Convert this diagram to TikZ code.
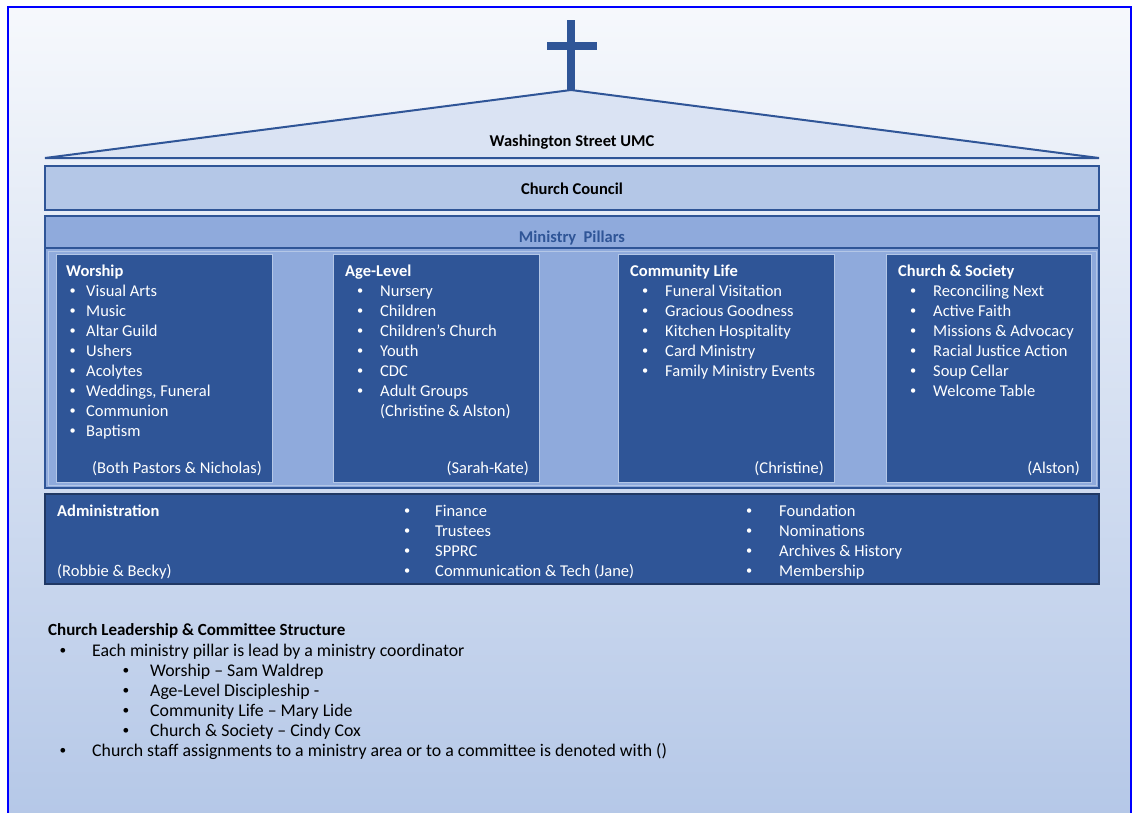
\documentclass[tikz,border=0pt]{standalone}
\usepackage{fontspec}
\usepackage{graphicx}
\setmainfont{Carlito}
\usetikzlibrary{positioning}

\newcommand{\blt}[1][10.5pt]{\llap{\raisebox{1.3pt}{\scalebox{.75}{\textbullet}}\hspace{#1}}}

\begin{document}
\begin{tikzpicture}
	[x=1pt,y=-1pt,line join=miter,
	%Styles
	band/.style={draw=dark,line width=1.5pt,minimum width=1054pt,inner sep=0pt},
	pillar/.style={fill=dark,draw=lightblue,line width=.8pt,minimum width=#1,minimum height=228pt,inner sep=0pt,anchor=north west},
	head/.style={font=\fontsize{16.5}{18}\selectfont\bfseries,text=white,anchor=base west,inner sep=0pt},
	item/.style={font=\fontsize{16.5}{18}\selectfont,text=white,anchor=base west,inner sep=0pt},
	foot/.style={font=\fontsize{16.5}{18}\selectfont,text=white,anchor=base east,inner sep=0pt},
	title/.style={font=\fontsize{16.5}{18}\selectfont\bfseries,anchor=base,inner sep=0pt},
	note/.style={font=\fontsize{17.8}{20}\selectfont,anchor=base west,inner sep=0pt}
	]
	
	%Colors
	\definecolor{dark}{HTML}{2F5597}
	\definecolor{navy}{HTML}{203864}
	\definecolor{lightblue}{HTML}{B4C7E7}
	\definecolor{midblue}{HTML}{8FAADC}
	\definecolor{roof}{HTML}{DAE3F3}
	\definecolor{frame}{HTML}{0000FF}
	
	\useasboundingbox (0,0) rectangle (1135,812);
	\fill[white] (0,0) rectangle (1135,812);
	\shade[top color=white!70!lightblue!40,bottom color=lightblue] (8,7) rectangle (1131,830);
	\draw[frame,line width=2.5pt] (8,830) -- (8,7) -- (1131,7) -- (1131,830);
	
	%The graphic
	\fill[dark] (567,20) rectangle (575,92);
	\fill[dark] (547,42) rectangle (597,50);
	\draw[dark,fill=roof,line width=2pt] (45,158) -- (571,90) -- (1099,158) -- cycle;
	\node[title] (wsumc) at (572,146) {Washington Street UMC};
	
	\node[band,fill=lightblue,minimum height=44pt] (council) at (572,188) {};
	\node[title] (counciltext) at (572,194) {Church Council};
	
	\node[band,fill=midblue,line width=2.5pt,minimum height=272pt] (pillars) at (572,352) {};
	\node[band,fill=midblue,minimum height=32pt] (mphead) at (572,232) {};
	\node[title,text=dark] (mptext) at (572,242) {Ministry\ \ Pillars};
	\draw[lightblue,line width=.8pt] (48,251) rectangle (1096,485);
	
	% Worship
	\node[pillar=216pt] (worship) at (56,254) {};
	\node[head] (worshiphead) at (66,276) {Worship};
	\foreach \t [count=\i] in {Visual Arts,Music,Altar Guild,Ushers,Acolytes,{Weddings, Funeral},Communion,Baptism}
		\node[item] (worship\i) at (86,276+20*\i) {\blt\t};
	\node[foot] (worshipfoot) at (262,473) {(Both Pastors \& Nicholas)};
	
	% Age-Level
	\node[pillar=206pt] (agelevel) at (333,254) {};
	\node[head] (agehead) at (345,276) {Age-Level};
	\foreach \t [count=\i] in {Nursery,Children,Children’s Church,Youth,CDC,Adult Groups}
		\node[item] (age\i) at (380,276+20*\i) {\blt[17pt]\t};
	\node[item] (agestaff) at (380,416) {(Christine \& Alston)};
	\node[foot] (agefoot) at (529,473) {(Sarah-Kate)};
	
	% Community Life
	\node[pillar=216pt] (community) at (618,254) {};
	\node[head] (commhead) at (630,276) {Community Life};
	\foreach \t [count=\i] in {Funeral Visitation,Gracious Goodness,Kitchen Hospitality,Card Ministry,Family Ministry Events}
		\node[item] (comm\i) at (665,276+20*\i) {\blt[17pt]\t};
	\node[foot] (commfoot) at (824,473) {(Christine)};
	
	% Church & Society
	\node[pillar=205pt] (society) at (886,254) {};
	\node[head] (sochead) at (898,276) {Church \& Society};
	\foreach \t [count=\i] in {Reconciling Next,Active Faith,Missions \& Advocacy,Racial Justice Action,Soup Cellar,Welcome Table}
		\node[item] (soc\i) at (933,276+20*\i) {\blt[17pt]\t};
	\node[foot] (socfoot) at (1080,473) {(Alston)};
	
	% Administration
	\node[band,fill=dark,draw=navy,minimum height=90pt] (admin) at (572,539) {};
	\node[head] (adminhead) at (57,516) {Administration};
	\node[item] (adminstaff) at (57,576) {(Robbie \& Becky)};
	\foreach \t [count=\i] in {Finance,Trustees,SPPRC,Communication \& Tech (Jane)}
		\node[item] (adma\i) at (435,496+20*\i) {\blt[25pt]\t};
	\foreach \t [count=\i] in {Foundation,Nominations,Archives \& History,Membership}
		\node[item] (admb\i) at (779,496+20*\i) {\blt[27pt]\t};
	
	% Notes
	\node[note,font=\fontsize{17}{20}\selectfont\bfseries] (notehead) at (48,635) {Church Leadership \& Committee Structure};
	\node[note] (note1) at (92,656) {\blt[26pt]Each ministry pillar is lead by a ministry coordinator};
	\foreach \t [count=\i] in {Worship – Sam Waldrep,Age-Level Discipleship -,Community Life – Mary Lide,Church \& Society – Cindy Cox}
		\node[note] (sub\i) at (150,656+20*\i) {\blt[21pt]\t};
	\node[note] (note2) at (92,756) {\blt[26pt]Church staff assignments to a ministry area or to a committee is denoted with ()};
\end{tikzpicture}
\end{document}
